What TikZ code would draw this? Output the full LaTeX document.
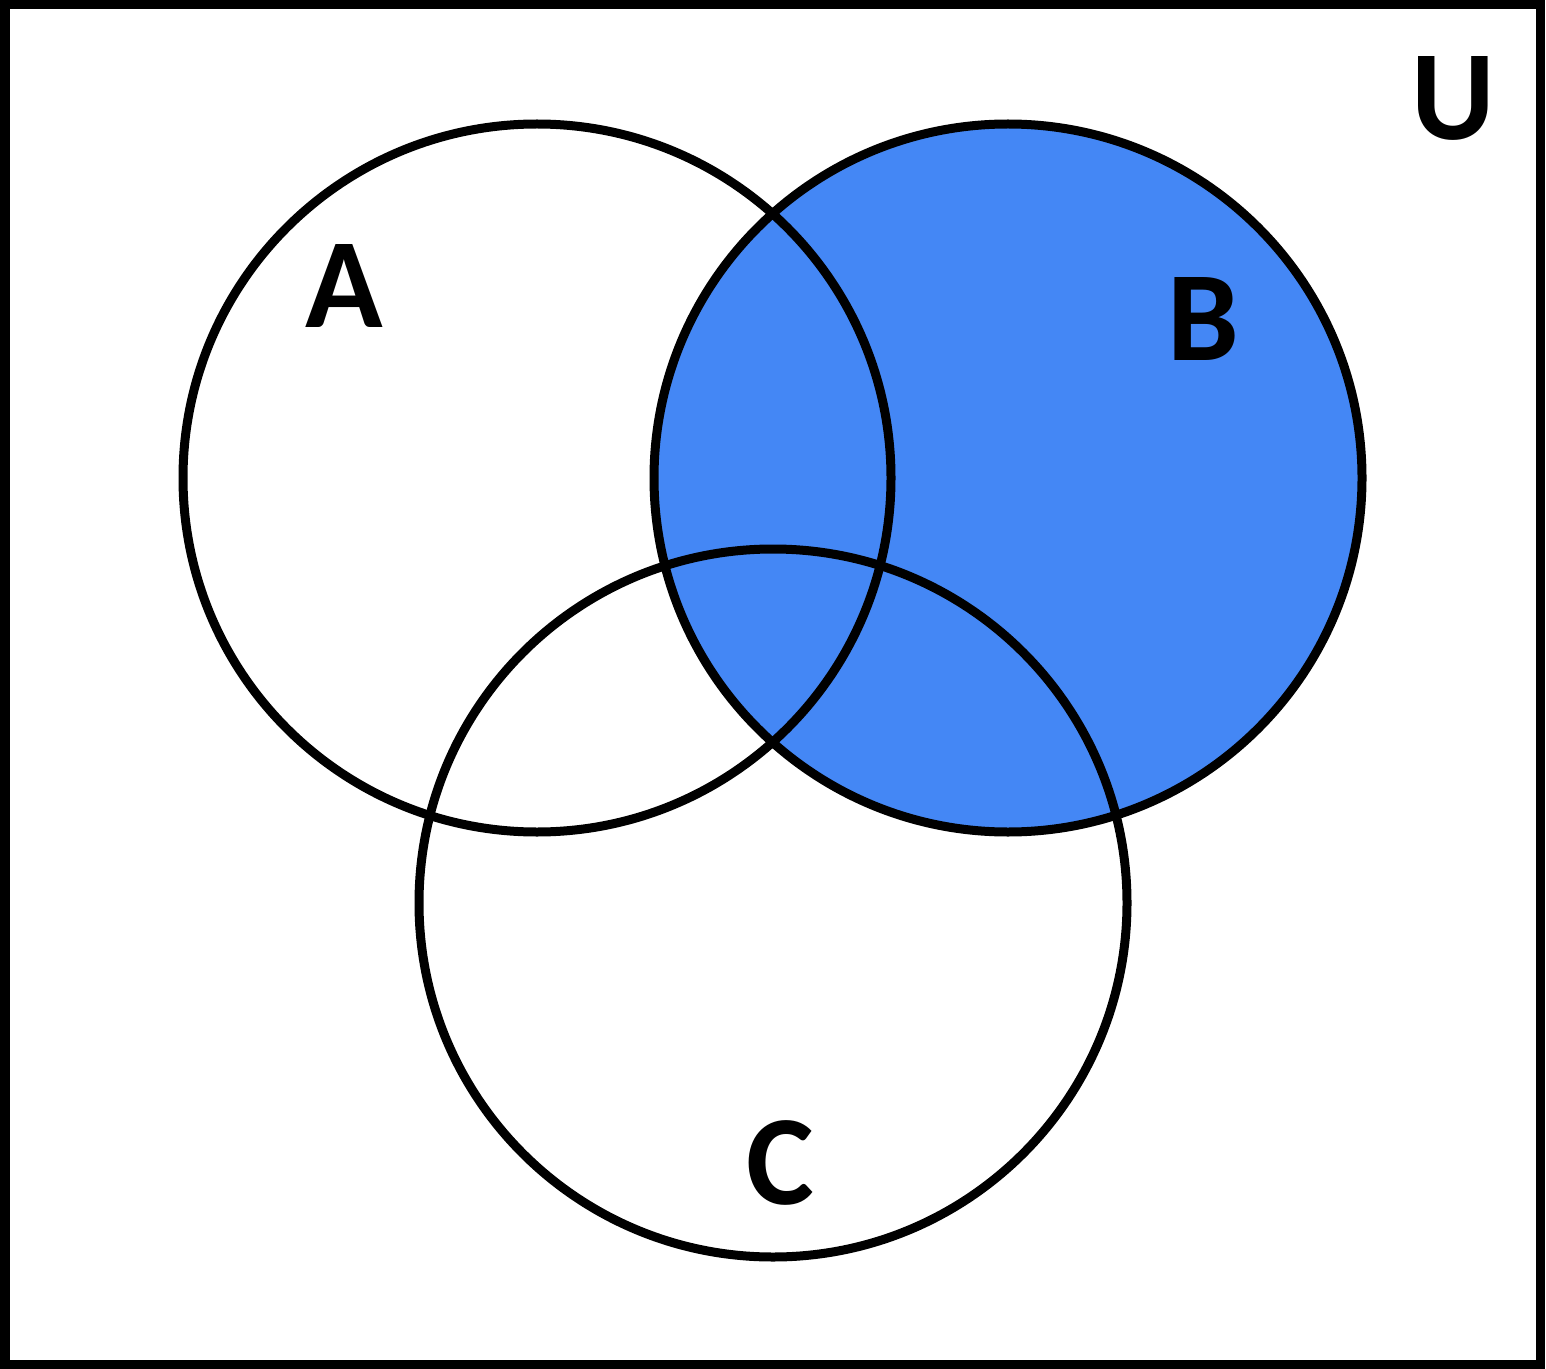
\documentclass[tikz,border=0pt]{standalone}
\usepackage{fontspec}
\setmainfont{Carlito}
\definecolor{setblue}{HTML}{4487F5}
\begin{document}
\begin{tikzpicture}[x=0.5pt,y=-0.5pt,
  ring/.style={draw=black,line width=4.5pt},
  lbl/.style={font=\fontsize{64}{64}\selectfont\bfseries,inner sep=0pt}]
\useasboundingbox (0,0) rectangle (1546,1369);
\fill[setblue] (1008,478) circle[radius=354];
\draw[ring] (5,5) rectangle (1540,1364);
\draw[ring] (537,478) circle[radius=354];
\draw[ring] (1008,478) circle[radius=354];
\draw[ring] (773,903) circle[radius=354];
\node[lbl] (a) at (344,286) {A};
\node[lbl] (b) at (1203,319) {B};
\node[lbl] (c) at (780,1163) {C};
\node[lbl] (u) at (1453,98) {U};
\end{tikzpicture}
\end{document}
